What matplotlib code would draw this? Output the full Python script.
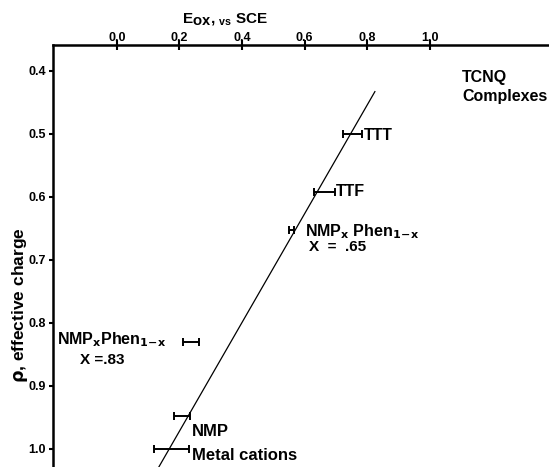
import matplotlib
matplotlib.use("Agg")
from matplotlib import pyplot as plt

names = ["TTT", "TTF", "NMP65", "NMP83", "NMP", "Metal"]
x_low = [0.722, 0.629, 0.550, 0.211, 0.182, 0.118]
x_high = [0.783, 0.696, 0.565, 0.262, 0.233, 0.230]
rho = [0.50, 0.593, 0.653, 0.831, 0.948, 1.00]

# straight correlation line, end points
line_x = [0.824, 0.134]
line_y = [0.433, 1.029]

x_ticks = [0.0, 0.2, 0.4, 0.6, 0.8, 1.0]
x_ticklabels = ["0.0", "0.2", "0.4", "0.6", "0.8", "1.0"]
y_ticks = [0.4, 0.5, 0.6, 0.7, 0.8, 0.9, 1.0]
y_ticklabels = ["0.4", "0.5", "0.6", "0.7", "0.8", "0.9", "1.0"]

plt.rcParams['font.family'] = ['Liberation Sans', 'DejaVu Sans']
plt.rcParams['font.weight'] = 'bold'
plt.rcParams['mathtext.default'] = 'bf'

fig = plt.figure(figsize=(5.49, 4.67), dpi=100)
ax = fig.add_axes([0.0965, 0.0, 0.9035, 0.9036])

xc = [(a + b) / 2 for a, b in zip(x_low, x_high)]
xe = [(b - a) / 2 for a, b in zip(x_low, x_high)]
ax.errorbar(xc, rho, xerr=xe, fmt='none', ecolor='black', elinewidth=1.4,
            capsize=3, capthick=1.4)
ax.plot(line_x, line_y, color='black', lw=0.9)

ax.set_xlim(-0.204, 1.380)
ax.set_ylim(1.029, 0.359)

ax.xaxis.tick_top()
ax.set_xticks(x_ticks)
ax.set_xticklabels(x_ticklabels, fontsize=9, fontweight='bold')
ax.set_yticks(y_ticks)
ax.set_yticklabels(y_ticklabels, fontsize=9, fontweight='bold')
ax.tick_params(axis='x', direction='inout', length=7, width=1.5, pad=-3)
ax.tick_params(axis='y', direction='out', length=3, width=1.5, pad=2)

for s in ['bottom', 'right']:
    ax.spines[s].set_visible(False)
for s in ['top', 'left']:
    ax.spines[s].set_linewidth(1.8)

fig.text(0.41, 0.958, r"E$_{OX}$, $\mathregular{_{vs}}$ SCE", ha='center', va='center',
         fontsize=11, fontweight='bold')
fig.text(0.036, 0.347, r"$\rho$, effective charge", rotation=90, ha='center',
         va='center', fontsize=12.5, fontweight='bold')

fs = 11.5
sub = r"$_{1\!-\!x}$"
ax.text(1.102, 0.411, "TCNQ", fontsize=11.5, fontweight='bold', va='center')
ax.text(1.102, 0.441, "Complexes", fontsize=11.5, fontweight='bold', va='center')
ax.text(0.789, 0.502, "TTT", fontsize=fs, fontweight='bold', va='center')
ax.text(0.700, 0.591, "TTF", fontsize=fs, fontweight='bold', va='center')
ax.text(0.600, 0.656, r"NMP$_x$ Phen" + sub, fontsize=fs,
        fontweight='bold', va='center')
ax.text(0.613, 0.680, "X  =  .65", fontsize=11, fontweight='bold', va='center')
ax.text(-0.19, 0.827, r"NMP$_x$Phen" + sub, fontsize=fs,
        fontweight='bold', va='center')
ax.text(-0.118, 0.859, "X =.83", fontsize=11, fontweight='bold', va='center')
ax.text(0.24, 0.973, "NMP", fontsize=12, fontweight='bold', va='center')
ax.text(0.24, 1.011, "Metal cations", fontsize=12, fontweight='bold', va='center')

fig.savefig("out.png", dpi=100)
